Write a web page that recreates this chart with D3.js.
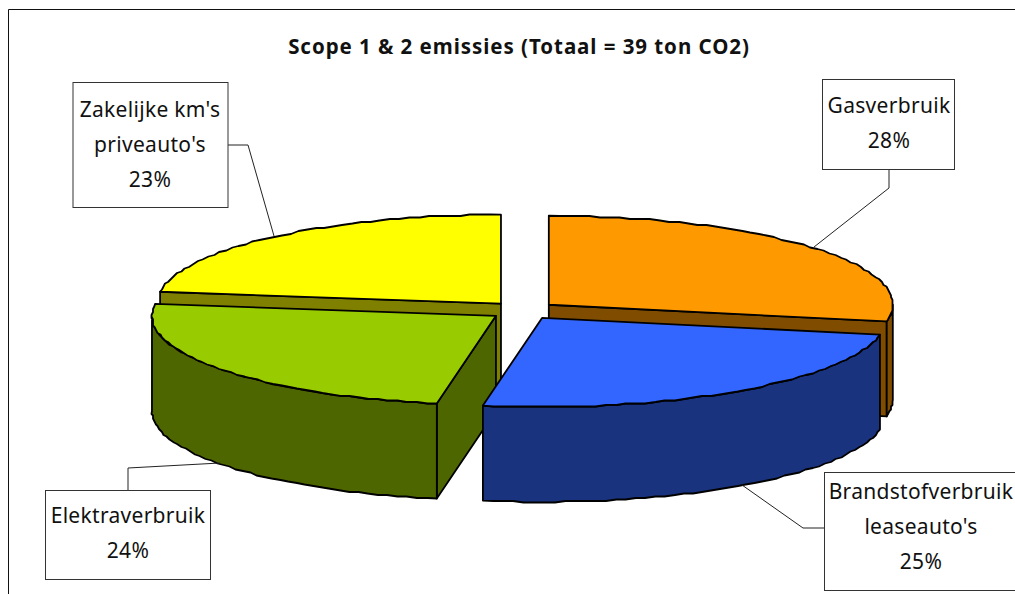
<!DOCTYPE html>
<html><head><meta charset="utf-8">
<script src="https://cdn.jsdelivr.net/npm/d3@7/dist/d3.min.js"></script>
<style>html,body{margin:0;padding:0;background:#fff;overflow:hidden}svg{display:block}text{font-family:"Noto Sans",sans-serif;fill:#111}</style>
</head><body><svg id="c" width="1015" height="594"></svg>
<script>
// Data
const categories = ["Gasverbruik", "Brandstofverbruik leaseauto's", "Elektraverbruik", "Zakelijke km's priveauto's"];
const labelLines = [["Gasverbruik"], ["Brandstofverbruik", "leaseauto's"], ["Elektraverbruik"], ["Zakelijke km's", "priveauto's"]];
const shares = [28, 24.75, 24.4, 22.85];
const topColors = ["#ff9900", "#3366ff", "#99cc00", "#ffff00"];
const sideColors = ["#804d00", "#1a337f", "#4d6600", "#808000"];
const titleText = "Scope 1 & 2 emissies (Totaal = 39 ton CO2)";

// Layout
const W = 1015, H = 594;
const centre = {x: 523, y: 310.5}, rx = 344, ry = 89, depth = 95, explodeX = 33.5, explodeY = 9;
const drawOrder = [3, 0, 2, 1];
const boxes = [
  {x: 822.5, y: 79.5, w: 132, h: 90, cx: 889, base: 113, leader: [[889,168],[889,188],[814,247]]},
  {x: 824.5, y: 472.5, w: 200, h: 118, cx: 921, base: 499, leader: [[824,528],[803,528],[742,485]]},
  {x: 45.5, y: 490.5, w: 165, h: 89, cx: 128, base: 523, leader: [[128,490],[128,468],[220,463]]},
  {x: 73, y: 82.5, w: 155, h: 125, cx: 150, base: 117, leader: [[228,145],[248,145],[274,236]]}
];

const svg = d3.select("#c");
svg.append("path").attr("d", `M8.5,${H}V9.5H${W}`).attr("fill", "none").attr("stroke", "#111").attr("stroke-width", 1);
svg.append("text").attr("x", 519).attr("y", 54).attr("text-anchor", "middle")
  .attr("font-size", 20.5).attr("font-weight", 700).attr("letter-spacing", 0.95).text(titleText);

const arcs = d3.pie().sort(null).startAngle(0).endAngle(2 * Math.PI)(shares);
const snap = v => Math.round(v / 1.5) * 1.5;
const line = d3.line();

function project(c, a, drop) {
  return [c.x + rx * Math.sin(a), c.y - ry * Math.cos(a) + (drop || 0)];
}
function rim(c, a0, a1, drop) {
  const n = Math.max(2, Math.ceil((a1 - a0) / 0.03));
  return d3.range(n + 1).map(i => {
    const a = a0 + (a1 - a0) * i / n;
    const p = project(c, a, drop);
    return (i === 0 || i === n) ? p : [snap(p[0]), snap(p[1])];
  });
}
const g = svg.append("g");
function face(pts, fill) {
  g.append("path").attr("d", line(pts) + "Z").attr("fill", fill).attr("stroke", "#000")
    .attr("stroke-width", 1.8).attr("stroke-linejoin", "round");
}
function cutFace(c, a, fill) {
  const p = project(c, a);
  face([[c.x, c.y], p, [p[0], p[1] + depth], [c.x, c.y + depth]], fill);
}
drawOrder.forEach(i => {
  const d = arcs[i], mid = (d.startAngle + d.endAngle) / 2;
  const c = {x: centre.x + explodeX * Math.sin(mid), y: centre.y - explodeY * Math.cos(mid)};
  if (-Math.sin(d.startAngle) > 1e-6) cutFace(c, d.startAngle, sideColors[i]);
  if (Math.sin(d.endAngle) > 1e-6) cutFace(c, d.endAngle, sideColors[i]);
  const a0 = Math.max(d.startAngle, Math.PI / 2), a1 = Math.min(d.endAngle, 3 * Math.PI / 2);
  if (a1 > a0) face(rim(c, a0, a1, 0).concat(rim(c, a0, a1, depth).reverse()), sideColors[i]);
  face([[c.x, c.y]].concat(rim(c, d.startAngle, d.endAngle, 0)), topColors[i]);
});

const total = d3.sum(shares);
boxes.forEach((b, i) => {
  svg.append("path").attr("d", line(b.leader)).attr("fill", "none").attr("stroke", "#222").attr("stroke-width", 1);
  svg.append("rect").attr("x", b.x).attr("y", b.y).attr("width", b.w).attr("height", b.h)
    .attr("fill", "#fff").attr("stroke", "#333").attr("stroke-width", 1);
  labelLines[i].concat([d3.format(".0%")(shares[i] / total)]).forEach((t, j) => {
    svg.append("text").attr("x", b.cx).attr("y", b.base + j * 35).attr("text-anchor", "middle")
      .attr("font-size", 21).attr("letter-spacing", 0.3).text(t);
  });
});
</script></body></html>
